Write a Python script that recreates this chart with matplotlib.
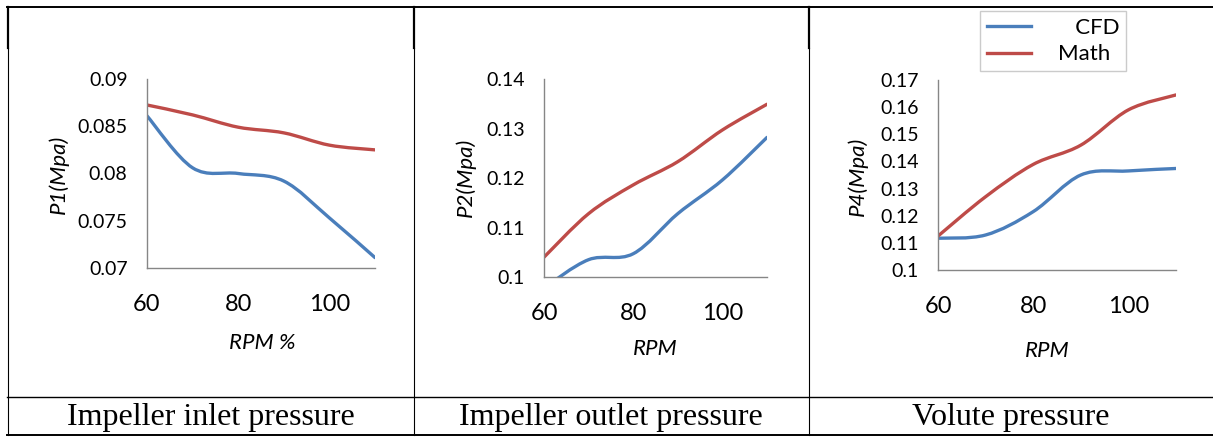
import matplotlib
matplotlib.use('Agg')
import matplotlib.pyplot as plt
from matplotlib.path import Path
from matplotlib.patches import PathPatch
from matplotlib.lines import Line2D

# Data (RPM in %, pressure in MPa)
rpm = [60, 70, 80, 90, 100, 110]

p1_cfd = [0.0861, 0.0806, 0.0800, 0.0792, 0.0753, 0.0711]
p1_math = [0.08725, 0.0862, 0.0849, 0.0843, 0.0830, 0.0825]

p2_cfd = [0.0978, 0.1035, 0.1047, 0.1128, 0.1196, 0.1282]
p2_math = [0.1040, 0.1128, 0.1186, 0.1233, 0.1297, 0.1349]

p4_cfd = [0.1117, 0.1129, 0.1215, 0.1350, 0.1365, 0.1374]
p4_math = [0.1125, 0.1270, 0.1389, 0.1460, 0.1590, 0.1645]

xticks = [60, 80, 100]
p1_ticks = [0.07, 0.075, 0.08, 0.085, 0.09]
p2_ticks = [0.1, 0.11, 0.12, 0.13, 0.14]
p4_ticks = [0.1, 0.11, 0.12, 0.13, 0.14, 0.15, 0.16, 0.17]

ylabels = ['P1(Mpa)', 'P2(Mpa)', 'P4(Mpa)']
xlabels = ['RPM %', 'RPM', 'RPM']
captions = ['Impeller inlet pressure', 'Impeller outlet pressure', 'Volute pressure']
series_names = ['   CFD', 'Math']

BLUE = '#4A7EBB'
RED = '#BE4B48'
AXIS = '#868686'
SANS = ['Lato', 'DejaVu Sans']

W, H = 1213, 438


def px_rect(l, t, r, b):
    return [l / W, 1 - b / H, (r - l) / W, (b - t) / H]


def smooth_line(ax, x, y, color):
    # Excel-like smoothed line: cubic bezier segments through the data points
    n = len(x)
    verts = [(x[0], y[0])]
    codes = [Path.MOVETO]
    for i in range(n - 1):
        a = max(i - 1, 0)
        d = min(i + 2, n - 1)
        c1 = (x[i] + (x[i + 1] - x[a]) / 6, y[i] + (y[i + 1] - y[a]) / 6)
        c2 = (x[i + 1] - (x[d] - x[i]) / 6, y[i + 1] - (y[d] - y[i]) / 6)
        verts += [c1, c2, (x[i + 1], y[i + 1])]
        codes += [Path.CURVE4] * 3
    patch = PathPatch(Path(verts, codes), fill=False, edgecolor=color,
                      lw=2.4, capstyle='round', joinstyle='round')
    ax.add_patch(patch)


def fmt(v):
    return ('%.3f' % v).rstrip('0').rstrip('.')


fig = plt.figure(figsize=(W / 100, H / 100), dpi=100)
fig.patch.set_facecolor('white')

rects = [px_rect(147, 79, 375, 268), px_rect(544, 79, 767, 277), px_rect(938, 80, 1176, 270)]
data = [(p1_cfd, p1_math, p1_ticks), (p2_cfd, p2_math, p2_ticks), (p4_cfd, p4_math, p4_ticks)]
ylab_pos = [(59, 174), (466, 177), (858, 176)]
xlab_pos = [(262, 343), (655, 349), (1047, 351)]
cap_x = [211, 611, 1011]

for i in range(3):
    ax = fig.add_axes(rects[i])
    cfd, math, ticks = data[i]
    smooth_line(ax, rpm, cfd, BLUE)
    smooth_line(ax, rpm, math, RED)
    ax.set_xlim(60, 110)
    ax.set_ylim(ticks[0], ticks[-1])
    ax.set_xticks(xticks)
    ax.set_xticklabels([str(t) for t in xticks], fontsize=17, family=SANS)
    ax.set_yticks(ticks)
    ax.set_yticklabels([fmt(t) for t in ticks], fontsize=14, family=SANS)
    ax.tick_params(length=0)
    ax.tick_params(axis='y', pad=14)
    ax.tick_params(axis='x', pad=19)
    for s in ['top', 'right']:
        ax.spines[s].set_visible(False)
    for s in ['left', 'bottom']:
        ax.spines[s].set_color(AXIS)
        ax.spines[s].set_linewidth(1.0)
    ax.patch.set_alpha(0)

    fig.text(ylab_pos[i][0] / W, 1 - ylab_pos[i][1] / H, ylabels[i], rotation=90,
             ha='center', va='center', fontsize=16, style='italic', family=SANS)
    fig.text(xlab_pos[i][0] / W, 1 - xlab_pos[i][1] / H, xlabels[i],
             ha='center', va='center', fontsize=16, style='italic', family=SANS)
    fig.text(cap_x[i] / W, 1 - 418 / H, captions[i], ha='center', va='center',
             fontsize=23, family='Liberation Serif')

handles = [Line2D([], [], color=BLUE, lw=2.4), Line2D([], [], color=RED, lw=2.4)]
leg = fig.legend(handles, series_names, loc='upper left',
                 bbox_to_anchor=(980 / W, 1 - 11 / H), frameon=True, fancybox=False,
                 prop={'family': SANS, 'size': 16}, handlelength=2.0, handletextpad=1.2,
                 borderpad=0.3, labelspacing=0.3, borderaxespad=0)
leg.get_frame().set_edgecolor('#BFBFBF')
leg.get_frame().set_linewidth(1.0)

# table grid lines
def hline(y, x0, x1, lw):
    fig.add_artist(Line2D([x0 / W, x1 / W], [1 - y / H, 1 - y / H],
                          transform=fig.transFigure, color='black', lw=lw))


def vline(x, y0, y1, lw):
    fig.add_artist(Line2D([x / W, x / W], [1 - y0 / H, 1 - y1 / H],
                          transform=fig.transFigure, color='black', lw=lw))


hline(7, 7, 1213, 1.4)
hline(397, 7, 1213, 1.0)
hline(435, 7, 1213, 1.4)
for x in [8, 414.5, 809]:
    vline(x, 7, 48, 1.6)
    vline(x, 48, 435, 0.8)

fig.savefig('out.png', dpi=100, facecolor='white')
